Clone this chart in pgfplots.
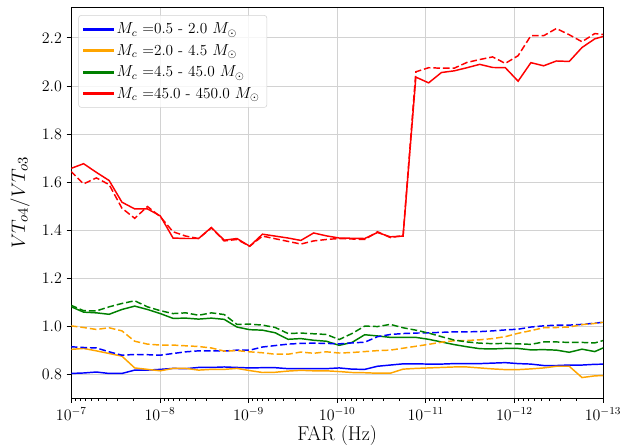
\documentclass[border=0pt]{standalone}
\usepackage{pgfplots}
\pgfplotsset{compat=1.18}
\usepackage{pgfplotstable}
\definecolor{mplblue}{RGB}{0,0,255}
\definecolor{mplorange}{RGB}{255,165,0}
\definecolor{mplgreen}{RGB}{0,128,0}
\definecolor{mplred}{RGB}{255,0,0}

\pgfplotstableread{
e        bs    bd    os    od    gs    gd    rs    rd
-6.9932  0.805 0.916 0.905 1.003 1.083 1.089 1.657 1.646
-7.1374  0.807 0.913 0.909 0.996 1.060 1.066 1.677 1.593
-7.2817  0.811 0.911 0.899 0.988 1.057 1.065 1.641 1.618
-7.4259  0.805 0.895 0.888 0.995 1.051 1.082 1.607 1.590
-7.5702  0.805 0.881 0.877 0.982 1.071 1.096 1.517 1.492
-7.7144  0.819 0.884 0.828 0.939 1.085 1.107 1.489 1.450
-7.8586  0.819 0.883 0.822 0.927 1.071 1.082 1.489 1.499
-8.0029  0.822 0.881 0.816 0.923 1.054 1.066 1.460 1.457
-8.1471  0.826 0.888 0.826 0.923 1.034 1.054 1.368 1.394
-8.2914  0.825 0.895 0.826 0.920 1.035 1.057 1.366 1.376
-8.4356  0.830 0.899 0.819 0.917 1.031 1.047 1.366 1.366
-8.5798  0.830 0.899 0.822 0.911 1.035 1.057 1.412 1.410
-8.7241  0.832 0.898 0.822 0.898 1.030 1.050 1.359 1.356
-8.8683  0.830 0.902 0.826 0.900 0.998 1.009 1.366 1.362
-9.0126  0.828 0.902 0.817 0.895 0.987 1.010 1.334 1.334
-9.1568  0.829 0.915 0.809 0.891 0.985 1.006 1.384 1.376
-9.3010  0.829 0.921 0.810 0.885 0.974 0.996 1.376 1.365
-9.4453  0.825 0.927 0.815 0.885 0.947 0.971 1.368 1.354
-9.5895  0.825 0.930 0.818 0.894 0.950 0.973 1.358 1.343
-9.7338  0.825 0.931 0.816 0.889 0.943 0.970 1.389 1.356
-9.8780  0.825 0.930 0.816 0.895 0.939 0.967 1.377 1.362
-10.0222 0.828 0.928 0.813 0.890 0.922 0.946 1.368 1.366
-10.1665 0.823 0.932 0.809 0.892 0.934 0.971 1.367 1.364
-10.3107 0.822 0.935 0.808 0.896 0.966 1.002 1.366 1.362
-10.4550 0.835 0.958 0.806 0.900 0.961 1.000 1.391 1.394
-10.5992 0.840 0.967 0.806 0.902 0.955 1.009 1.373 1.370
-10.7434 0.845 0.971 0.823 0.910 0.955 0.995 1.376 1.378
-10.8877 0.845 0.973 0.826 0.918 0.955 0.985 2.037 2.059
-11.0319 0.844 0.974 0.828 0.926 0.947 0.973 2.013 2.076
-11.1762 0.844 0.976 0.830 0.935 0.936 0.958 2.056 2.074
-11.3204 0.846 0.978 0.832 0.941 0.925 0.944 2.063 2.074
-11.4646 0.846 0.978 0.832 0.942 0.916 0.936 2.076 2.098
-11.6089 0.846 0.979 0.828 0.945 0.908 0.931 2.090 2.110
-11.7531 0.848 0.982 0.824 0.950 0.907 0.929 2.077 2.121
-11.8974 0.850 0.986 0.821 0.958 0.909 0.930 2.076 2.094
-12.0416 0.846 0.989 0.821 0.972 0.909 0.928 2.020 2.126
-12.1858 0.844 0.998 0.824 0.983 0.903 0.926 2.097 2.209
-12.3301 0.838 1.003 0.828 0.995 0.904 0.936 2.084 2.209
-12.4743 0.838 1.006 0.835 0.996 0.902 0.936 2.104 2.239
-12.6186 0.840 1.006 0.835 0.998 0.893 0.934 2.102 2.213
-12.7628 0.840 1.009 0.788 1.008 0.906 0.934 2.160 2.184
-12.9070 0.843 1.014 0.795 1.013 0.896 0.932 2.196 2.218
-13.0513 0.844 1.020 0.797 1.020 0.919 0.947 2.211 2.212
}\data

\begin{document}
\begin{tikzpicture}
\begin{axis}[
  at={(0,0)}, anchor=south west,
  scale only axis, width=398.7pt, height=293pt,
  xmode=log, x dir=reverse, xmin=1e-13, xmax=1e-7,
  ymin=0.703, ymax=2.327,
  ytick={0.8,1.0,1.2,1.4,1.6,1.8,2.0,2.2},
  yticklabel style={/pgf/number format/.cd, fixed, fixed zerofill, precision=1},
  tick align=outside, xtick pos=bottom, ytick pos=left,
  major tick length=3.6pt, minor tick length=2.1pt,
  grid=major, major grid style={gray!35, line width=0.6pt},
  axis line style={line width=0.6pt},
  every tick/.style={black, line width=0.6pt},
  tick label style={font=\fontsize{12}{14}\selectfont},
  xlabel={FAR (Hz)}, ylabel={$VT_{o4}/VT_{o3}$},
  label style={font=\fontsize{15}{18}\selectfont},
  xlabel style={at={(axis description cs:0.5,-0.097)}, anchor=center},
  ylabel style={at={(axis description cs:-0.0966,0.5)}, anchor=center},
  legend style={at={(0.013,0.980)}, anchor=north west, draw=gray!35,
    rounded corners=2pt, fill=white, fill opacity=0.8, text opacity=1,
    font=\fontsize{11.5}{13.5}\selectfont, row sep=2.4pt, inner sep=3.5pt},
  legend cell align=left,
  legend image code/.code={\fill[#1, fill opacity=1, rounded corners=0pt] (0cm,-0.6pt) rectangle (0.77cm,0.6pt);},
]
\addplot[color=mplblue, line width=1.1pt, forget plot] table[x expr={10^(\thisrow{e})}, y=bs] {\data};
\addplot[color=mplorange, line width=1.1pt, forget plot] table[x expr={10^(\thisrow{e})}, y=os] {\data};
\addplot[color=mplgreen, line width=1.1pt, forget plot] table[x expr={10^(\thisrow{e})}, y=gs] {\data};
\addplot[color=mplred, line width=1.1pt, forget plot] table[x expr={10^(\thisrow{e})}, y=rs] {\data};
\addplot[color=mplblue, line width=1.1pt, dash pattern=on 5pt off 2.2pt, forget plot] table[x expr={10^(\thisrow{e})}, y=bd] {\data};
\addplot[color=mplorange, line width=1.1pt, dash pattern=on 5pt off 2.2pt, forget plot] table[x expr={10^(\thisrow{e})}, y=od] {\data};
\addplot[color=mplgreen, line width=1.1pt, dash pattern=on 5pt off 2.2pt, forget plot] table[x expr={10^(\thisrow{e})}, y=gd] {\data};
\addplot[color=mplred, line width=1.1pt, dash pattern=on 5pt off 2.2pt, forget plot] table[x expr={10^(\thisrow{e})}, y=rd] {\data};
\addlegendimage{color=mplblue, line width=1.1pt}
\addlegendentry{$M_c$ =0.5 - 2.0 $M_\odot$}
\addlegendimage{color=mplorange, line width=1.1pt}
\addlegendentry{$M_c$ =2.0 - 4.5 $M_\odot$}
\addlegendimage{color=mplgreen, line width=1.1pt}
\addlegendentry{$M_c$ =4.5 - 45.0 $M_\odot$}
\addlegendimage{color=mplred, line width=1.1pt}
\addlegendentry{$M_c$ =45.0 - 450.0 $M_\odot$}
\end{axis}
\pgfresetboundingbox
\path[use as bounding box] (-53.55pt,-36.75pt) rectangle (412.2pt,298.5pt);
\end{tikzpicture}
\end{document}
